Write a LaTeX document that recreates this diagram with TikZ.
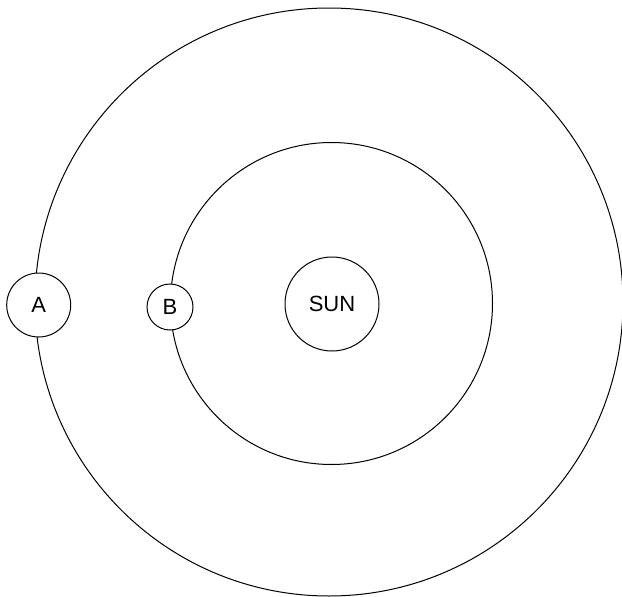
\documentclass[tikz,border=0pt]{standalone}
\usepackage{fontspec}
\setmainfont{Liberation Sans}
\begin{document}
\begin{tikzpicture}[x=1pt,y=-1pt,
  orbit/.style={draw=black,line width=1pt},
  body/.style={circle,draw=black,fill=white,line width=1pt,inner sep=0pt,font=\fontsize{22}{26}\selectfont}]
\useasboundingbox (0,0) rectangle (622,597);
\clip (0,0) rectangle (622,597);
\coordinate (oc) at (329,302);
\coordinate (ic) at (331.5,303.5);
\draw[orbit] (oc) circle[radius=294];
\draw[orbit] (ic) circle[radius=161];
\node[body,minimum size=94pt] (sun) at (332,304) {SUN};
\node[body,minimum size=64pt] (A) at (38.7,305) {A};
\node[body,minimum size=46pt] (B) at (170,307) {B};
\end{tikzpicture}
\end{document}
